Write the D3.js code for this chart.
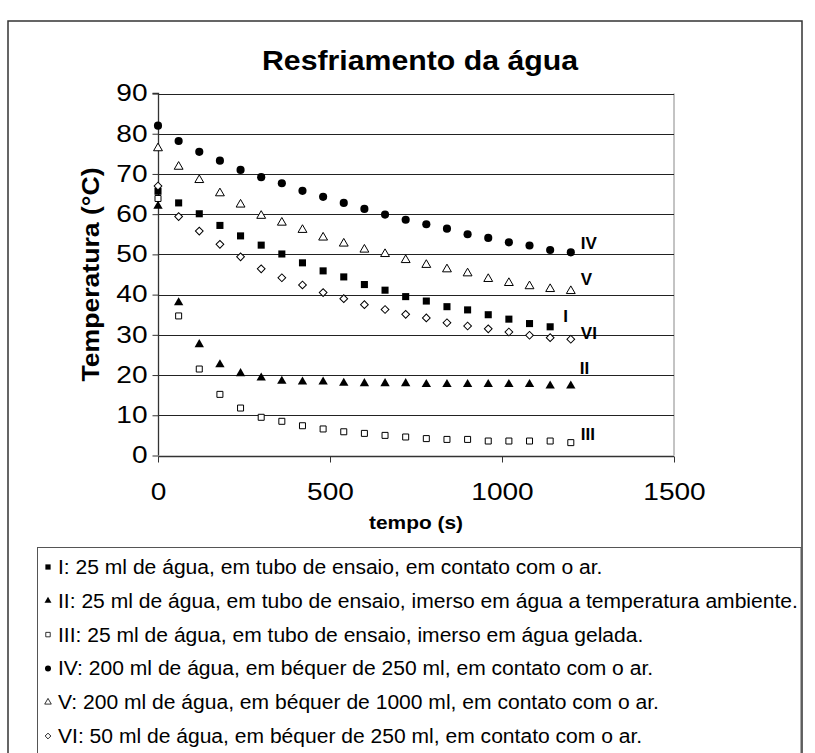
<!DOCTYPE html>
<html><head><meta charset="utf-8">
<script src="https://cdn.jsdelivr.net/npm/d3@7"></script>
<style>body{margin:0;background:#fff}svg{display:block;font-family:"Liberation Sans",Arial,sans-serif}</style>
</head><body>
<svg id="c" width="815" height="753"></svg>
<script>
const title = "Resfriamento da água";
const xTitle = "tempo (s)";
const yTitle = "Temperatura (°C)";
const xTicks = [0, 500, 1000, 1500];
const yTicks = [0, 10, 20, 30, 40, 50, 60, 70, 80, 90];
const times = [0,60,120,180,240,300,360,420,480,540,600,660,720,780,840,900,960,1020,1080,1140,1200];
const seriesNames = ["I","II","III","IV","V","VI"];
const valuesI   = [65.7,62.8,60.1,57.2,54.6,52.3,50.1,47.9,45.9,44.4,42.5,41.1,39.5,38.4,37.0,36.2,35.0,33.9,32.8,32.0];
const valuesII  = [62.0,38.0,27.6,22.6,20.4,19.3,18.5,18.3,18.3,18.0,17.9,17.9,17.9,17.7,17.7,17.7,17.7,17.7,17.7,17.3,17.3];
const valuesIII = [63.9,34.7,21.5,15.2,11.8,9.5,8.5,7.4,6.6,5.9,5.5,5.0,4.6,4.2,4.0,4.0,3.6,3.6,3.6,3.6,3.2];
const valuesIV  = [82.0,78.2,75.5,73.3,71.0,69.2,67.7,65.8,64.3,62.8,61.3,59.9,58.6,57.5,56.4,55.0,54.1,53.0,52.2,51.1,50.5];
const valuesV   = [76.4,71.8,68.5,65.2,62.4,59.6,57.9,56.1,54.2,52.7,51.2,50.1,48.6,47.4,46.3,45.3,43.9,42.9,42.1,41.4,40.9];
const valuesVI  = [67.0,59.4,55.8,52.5,49.4,46.4,44.2,42.4,40.5,39.0,37.5,36.3,35.1,34.2,33.0,32.2,31.5,30.7,29.9,29.3,28.9];
const legendTexts = [
  "I: 25 ml de água, em tubo de ensaio, em contato com o ar.",
  "II: 25 ml de água, em tubo de ensaio, imerso em água a temperatura ambiente.",
  "III: 25 ml de água, em tubo de ensaio, imerso em água gelada.",
  "IV: 200 ml de água, em béquer de 250 ml, em contato com o ar.",
  "V: 200 ml de água, em béquer de 1000 ml, em contato com o ar.",
  "VI: 50 ml de água, em béquer de 250 ml, em contato com o ar."
];

const allValues = [valuesI, valuesII, valuesIII, valuesIV, valuesV, valuesVI];
const markerStyle = {
  I:   {type: d3.symbolSquare,   size: 50, fill: "#000", rot: 0},
  II:  {type: d3.symbolTriangle, size: 38, fill: "#000", rot: 0},
  III: {type: d3.symbolSquare,   size: 36, fill: "#fff", rot: 0},
  IV:  {type: d3.symbolCircle,   size: 52, fill: "#000", rot: 0},
  V:   {type: d3.symbolTriangle, size: 34, fill: "#fff", rot: 0},
  VI:  {type: d3.symbolSquare,   size: 30, fill: "#fff", rot: 45}
};
const labelOffset = {I:[13,-11], II:[9,-18], III:[10,-9], IV:[10,-9], V:[10,-12], VI:[10,-6]};

function stretch(sel, k){
  sel.each(function(){
    const w = this.getComputedTextLength();
    this.setAttribute("textLength", w*k);
    this.setAttribute("lengthAdjust","spacingAndGlyphs");
  });
}

const svg = d3.select("#c");
svg.append("rect").attr("x",8).attr("y",21).attr("width",794).attr("height",760)
  .attr("fill","none").attr("stroke","#333").attr("stroke-width",1.5);

const x = d3.scaleLinear().domain([0,1500]).range([158,674]);
const y = d3.scaleLinear().domain([0,90]).range([455.5,93.5]);

svg.append("line").attr("x1",674).attr("x2",674).attr("y1",y(90)).attr("y2",y(0))
  .attr("stroke","#888").attr("stroke-width",1);
svg.append("g").selectAll("line").data(yTicks.filter(d=>d>0)).join("line")
  .attr("x1",x(0)).attr("x2",x(1500)).attr("y1",d=>Math.round(y(d))+0.5).attr("y2",d=>Math.round(y(d))+0.5)
  .attr("stroke","#222").attr("stroke-width",1);

const xAxis = d3.axisBottom(x).tickValues(xTicks).tickSize(6).tickPadding(21).tickFormat(d3.format("d"));
const gx = svg.append("g").attr("transform",`translate(0,${Math.round(y(0))+0.5})`).call(xAxis);
const yAxis = d3.axisLeft(y).tickValues(yTicks).tickSize(6).tickPadding(5);
const gy = svg.append("g").attr("transform",`translate(${Math.round(x(0))+0.5},0)`).call(yAxis);
[gx,gy].forEach(g=>{
  g.select(".domain").attr("stroke","#333").attr("stroke-width",1.3);
  g.selectAll(".tick line").attr("stroke","#333");
  g.selectAll("text").attr("font-family","Liberation Sans, Arial, sans-serif").attr("font-size",23).attr("fill","#000");
  stretch(g.selectAll("text"), 1.22);
});
gy.select(".domain").attr("d",`M-6,${y(90)}H0V${y(0)}`);
gx.select(".domain").attr("d",`M0.5,0H${x(1500)-x(0)}`).attr("transform",`translate(${x(0)},0)`);

const tt = svg.append("text").attr("x",420).attr("y",70).attr("text-anchor","middle")
  .attr("font-weight","bold").attr("font-size",28).text(title);
tt.attr("textLength",316).attr("lengthAdjust","spacingAndGlyphs");
const xt = svg.append("text").attr("x",416).attr("y",529).attr("text-anchor","middle")
  .attr("font-weight","bold").attr("font-size",19).text(xTitle);
xt.attr("textLength",94).attr("lengthAdjust","spacingAndGlyphs");
const yt = svg.append("text").attr("transform",`translate(99,${(y(0)+y(90))/2}) rotate(-90)`).attr("text-anchor","middle")
  .attr("font-weight","bold").attr("font-size",23).text(yTitle);
yt.attr("textLength",214).attr("lengthAdjust","spacingAndGlyphs");

const sym = (name, scale) => d3.symbol().type(markerStyle[name].type).size(markerStyle[name].size*(scale||1))();
seriesNames.forEach((name,i)=>{
  const vals = allValues[i];
  const st = markerStyle[name];
  svg.append("g").selectAll("path").data(vals).join("path")
    .attr("d", sym(name))
    .attr("transform",(v,j)=>`translate(${x(times[j])},${y(v)}) rotate(${st.rot})`)
    .attr("fill",st.fill).attr("stroke","#000").attr("stroke-width",st.fill==="#000"?0:1);
  const last = vals.length-1;
  const off = labelOffset[name];
  svg.append("text").attr("x",x(times[last])+off[0]).attr("y",y(vals[last])+off[1]+6)
    .attr("font-weight","bold").attr("font-size",17).text(name);
});

svg.append("rect").attr("x",37.5).attr("y",547.5).attr("width",763.5).attr("height",240)
  .attr("fill","#fff").attr("stroke","#555").attr("stroke-width",1);
legendTexts.forEach((t,i)=>{
  const name = seriesNames[i];
  const st = markerStyle[name];
  const cy = 567 + i*33.8;
  svg.append("path").attr("d",sym(name,0.55))
    .attr("transform",`translate(48,${cy}) rotate(${st.rot})`)
    .attr("fill",st.fill).attr("stroke","#000").attr("stroke-width",st.fill==="#000"?0:0.8);
  const tx = svg.append("text").attr("x",58).attr("y",cy+7).attr("font-size",19.5).text(t);
  stretch(tx, 1.08);
});
</script>
</body></html>
